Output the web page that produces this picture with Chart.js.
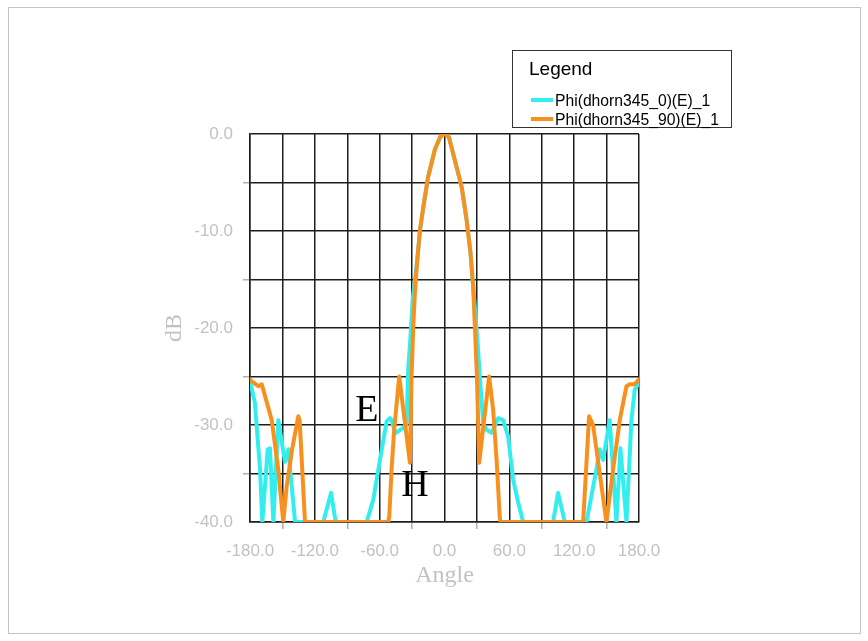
<!DOCTYPE html>
<html>
<head>
<meta charset="utf-8">
<title>Phi cut</title>
<script src="https://cdn.jsdelivr.net/npm/chart.js@4.4.1/dist/chart.umd.min.js"></script>
<style>
  html, body { margin: 0; padding: 0; background: #fff; }
  #wrap { position: relative; width: 868px; height: 641px; }
  #frame { position: absolute; left: 8px; top: 7px; width: 851px; height: 625px; border: 1px solid #c4c4c4; }
  #legend {
    position: absolute; left: 512px; top: 50px; width: 218px; height: 76px;
    border: 1px solid #333; background: #fff;
    font-family: "Liberation Sans", Arial, sans-serif; color: #000;
  }
  #legend .title { position: absolute; left: 16px; top: 7px; font-size: 19px; }
  #legend .item { position: absolute; left: 18px; font-size: 15.7px; line-height: 18px; white-space: nowrap; }
  #legend .swatch { display: inline-block; width: 22px; height: 4px; vertical-align: middle; margin-right: 2px; position: relative; top: -2px; }
  canvas { position: absolute; left: 0; top: 0; }
</style>
</head>
<body>
<div id="wrap">
  <div id="frame"></div>
  <canvas id="plot" width="868" height="641"></canvas>
  <div id="legend"><div class="title">Legend</div></div>
</div>
<script>
// Phi = 0 cut (E)
const angle0 = [-180, -178.5, -175.5, -170.7, -168.6, -163.6, -161.5, -158.4, -153.8, -147.6, -144.5, -138.3,
  -112.2, -105, -100.7, -72, -65.9, -59.7, -53.5, -50.5, -48.9, -45.9, -44.9, -38.2, -35, -33.6, -31.5, -29.5,
  -25.2, -22.7, -19, -15.1, -8.9, -4, -2, 0, 2, 4, 8, 15.8, 20.4, 24.1, 26.5, 28.6, 30.6, 32.7, 35.8, 38.9, 43.5, 49.7, 54.3,
  58.9, 63.5, 68.2, 72.8, 100.5, 105.1, 111.3, 131.4, 140.6, 143.7, 146.8, 152.9, 159.1, 162.8, 168.4,
  173, 176, 179, 180];
const gain0 = [-25.6, -26.2, -27.7, -34.6, -40, -32.5, -32.4, -40, -29.5, -33.8, -32.5, -40,
  -40, -37, -40, -40, -37.7, -33.6, -29.6, -29.3, -29.5, -30.7, -30.8, -30.3, -29.8, -24.3, -21, -17.1,
  -13, -9.9, -7.1, -4.4, -1.6, -0.3, -0.1, 0, -0.1, -0.3, -2, -5.4, -8.8, -12.3, -15.7, -18.5, -21.5, -25, -29.8, -30.5, -30.8, -29.3, -29.5,
  -31.2, -35.6, -38, -40, -40, -37, -40, -40, -34.6, -32.5, -33.6, -29.5, -40, -32.4, -40,
  -29.5, -26.4, -25.8, -25.6];

// Phi = 90 cut (H)
const angle90 = [-180, -178.4, -172.3, -169.1, -159.9, -153.8, -149.2, -146, -141, -135.3, -134, -129.1,
  -52, -51.1, -49, -46.5, -41.9, -32, -30.5, -28.9, -27.4, -25.2, -22.7, -19, -15.1, -8.9, -4, -2, 0,
  2, 4, 8, 15.8, 20.4, 24.1, 26.5, 28.1, 30, 31.2, 32.1, 41.3, 45, 48.2, 51.2, 52,
  128.3, 133.8, 137.5, 149.9, 156, 162.2, 168.4, 171.4, 176, 180];
const gain90 = [-25.3, -25.5, -26.0, -25.8, -29.5, -34.6, -40, -36.3, -32.5, -29.1, -29.6, -40,
  -40, -39.4, -34.6, -30.4, -25, -33.9, -25, -19.8, -16.4, -13, -9.9, -7.1, -4.4, -1.6, -0.3, -0.1, 0,
  -0.1, -0.3, -2, -5.4, -8.8, -12.3, -15.7, -19.8, -25, -30, -33.9, -25, -28.4, -33.6, -39.6, -40,
  -40, -29.1, -30, -40, -34.6, -29.5, -26, -25.8, -25.8, -25.3];

const seriesNames = ['Phi(dhorn345_0)(E)_1', 'Phi(dhorn345_90)(E)_1'];
const seriesColors = ['#33eeee', '#f7901e'];

// text marks placed on the plot, in angle / dB
const notes = [
  { text: 'E', x: -71.8, y: -28.6 },
  { text: 'H', x: -27.4, y: -36.3 }
];

const toPoints = (xs, ys) => xs.map((x, i) => ({ x: x, y: ys[i] }));

const tickGray = '#c2c2c2';
const gridDark = '#1e1e1e';
const sans = '"Liberation Sans", Arial, sans-serif';
const serif = '"Liberation Serif", "Times New Roman", serif';

// html legend
const legend = document.getElementById('legend');
seriesNames.forEach((name, i) => {
  const item = document.createElement('div');
  item.className = 'item';
  item.style.top = (41 + i * 19) + 'px';
  item.innerHTML = '<span class="swatch" style="background:' + seriesColors[i] + '"></span>' + name;
  legend.appendChild(item);
});

const notesPlugin = {
  id: 'notes',
  afterDatasetsDraw(chart) {
    const ctx = chart.ctx;
    const xs = chart.scales.x, ys = chart.scales.y;
    ctx.save();
    ctx.fillStyle = '#000';
    ctx.font = '38px ' + serif;
    ctx.textAlign = 'center';
    ctx.textBaseline = 'middle';
    notes.forEach(n => ctx.fillText(n.text, xs.getPixelForValue(n.x), ys.getPixelForValue(n.y)));
    ctx.restore();
  }
};

const lineStyle = { borderWidth: 4, pointRadius: 0, tension: 0, borderJoinStyle: 'round', borderCapStyle: 'round' };

new Chart(document.getElementById('plot').getContext('2d'), {
  type: 'line',
  data: {
    datasets: [
      Object.assign({ label: seriesNames[0], data: toPoints(angle0, gain0), borderColor: seriesColors[0], order: 2 }, lineStyle),
      Object.assign({ label: seriesNames[1], data: toPoints(angle90, gain90), borderColor: seriesColors[1], order: 1 }, lineStyle)
    ]
  },
  options: {
    responsive: false,
    animation: false,
    layout: { padding: { left: 160, right: 229, top: 134, bottom: 51 } },
    plugins: { legend: { display: false }, tooltip: { enabled: false } },
    scales: {
      x: {
        type: 'linear',
        min: -180,
        max: 180,
        afterFit(scale) { scale.height = 68; },
        ticks: {
          stepSize: 30,
          autoSkip: false,
          maxRotation: 0,
          padding: 12,
          color: tickGray,
          font: { family: sans, size: 17 },
          callback: v => (v % 60 === 0 ? v.toFixed(1) : '')
        },
        grid: {
          color: gridDark,
          lineWidth: 1.5,
          tickLength: 7,
          tickColor: c => (c.tick && c.tick.value % 60 === 0 ? 'rgba(0,0,0,0)' : '#b0b0b0')
        },
        border: { color: gridDark, width: 1.5 },
        title: {
          display: true,
          text: 'Angle',
          color: tickGray,
          font: { family: serif, size: 24 },
          padding: 0
        }
      },
      y: {
        min: -40,
        max: 0,
        afterFit(scale) { scale.width = 90; },
        ticks: {
          stepSize: 5,
          padding: 10,
          color: tickGray,
          font: { family: sans, size: 17 },
          callback: v => (v % 10 === 0 ? v.toFixed(1) : '')
        },
        grid: {
          color: gridDark,
          lineWidth: 1.5,
          tickLength: 7,
          tickColor: c => (c.tick && c.tick.value % 10 === 0 ? 'rgba(0,0,0,0)' : '#b0b0b0')
        },
        border: { color: gridDark, width: 1.5 },
        title: {
          display: true,
          text: 'dB',
          color: tickGray,
          font: { family: serif, size: 24 },
          padding: 0
        }
      }
    }
  },
  plugins: [notesPlugin]
});
</script>
</body>
</html>
